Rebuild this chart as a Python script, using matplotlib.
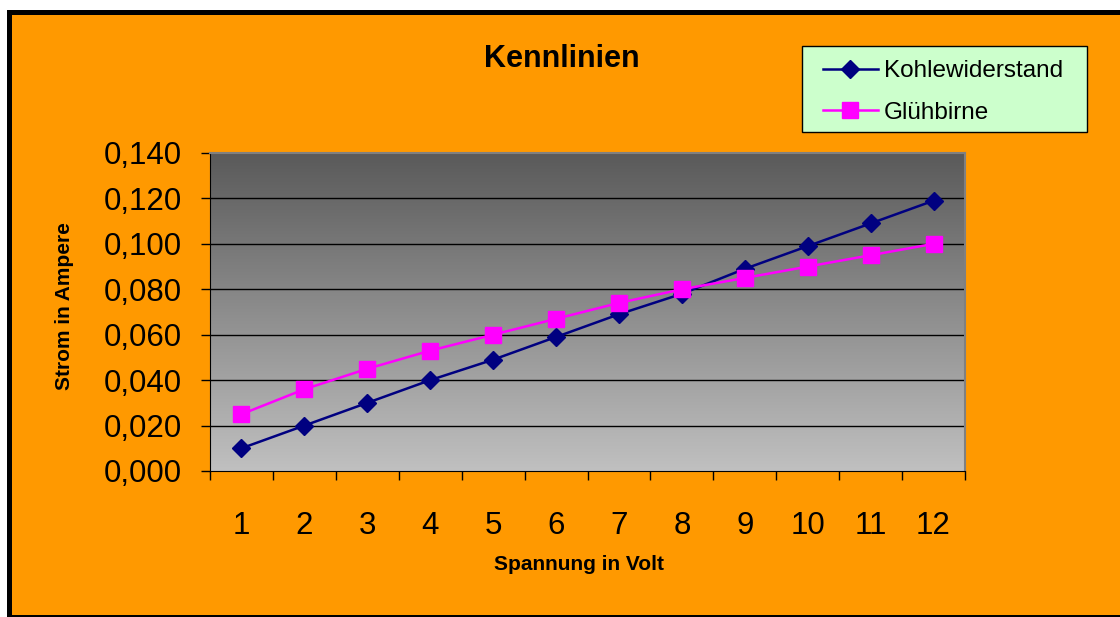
import numpy as np
import matplotlib
matplotlib.use("Agg")
import matplotlib.pyplot as plt
from matplotlib.patches import Rectangle
from matplotlib.ticker import FixedLocator, FuncFormatter

plt.rcParams['font.family'] = ['Liberation Sans', 'DejaVu Sans']

spannung = [1, 2, 3, 4, 5, 6, 7, 8, 9, 10, 11, 12]
kohle = [0.010, 0.020, 0.030, 0.040, 0.049, 0.059, 0.069, 0.078, 0.089, 0.099, 0.109, 0.119]
gluehbirne = [0.025, 0.036, 0.045, 0.053, 0.060, 0.067, 0.074, 0.080, 0.085, 0.090, 0.095, 0.100]
yticks = [0.0, 0.02, 0.04, 0.06, 0.08, 0.10, 0.12, 0.14]

W, H = 1120, 617
fig = plt.figure(figsize=(W / 100, H / 100), dpi=100, facecolor='white')

def fx(px):
    return px / W

def fy(py):
    return 1 - py / H

# orange chart background and black frame
fig.patches.append(Rectangle((fx(7), fy(616)), fx(1125) - fx(7), fy(10) - fy(616),
                             transform=fig.transFigure, facecolor='#FF9900',
                             edgecolor='none', zorder=-3))
fig.patches.append(Rectangle((fx(7), fy(15)), 1, fy(10) - fy(15),
                             transform=fig.transFigure, facecolor='black', zorder=-2))
fig.patches.append(Rectangle((fx(7), fy(616)), fx(12) - fx(7), fy(10) - fy(616),
                             transform=fig.transFigure, facecolor='black', zorder=-2))
fig.patches.append(Rectangle((fx(7), fy(617)), 1, fy(615) - fy(617),
                             transform=fig.transFigure, facecolor='black', zorder=-2))
# legend box
fig.patches.append(Rectangle((fx(802), fy(132)), fx(1087) - fx(802), fy(46) - fy(132),
                             transform=fig.transFigure, facecolor='#CCFFCC',
                             edgecolor='black', lw=1.0, zorder=-1))

ax = fig.add_axes([fx(210), fy(471), fx(965) - fx(210), fy(153) - fy(471)])
ax.set_zorder(2)
ax.set_xlim(0.5, 12.5)
ax.set_ylim(0, 0.14)

# gray gradient plot area
grad = np.linspace(0x5A, 0xC0, 256)[::-1].reshape(-1, 1) / 255.0
grad = np.dstack([grad, grad, grad])
ax.imshow(grad, extent=[0.5, 12.5, 0, 0.14], aspect='auto', origin='lower', zorder=0)

for v in yticks[1:-1]:
    ax.axhline(v, color='black', lw=1.0, zorder=1)

ax.plot(spannung, kohle, color='#000080', lw=1.8, marker='D', markersize=9,
        markerfacecolor='#000080', markeredgecolor='#000080', label='Kohlewiderstand', zorder=3)
ax.plot(spannung, gluehbirne, color='#FF00FF', lw=1.8, marker='s', markersize=11,
        markerfacecolor='#FF00FF', markeredgecolor='#FF00FF', label='Glühbirne', zorder=3)

for side in ['top', 'right']:
    ax.spines[side].set_color('#808080')
    ax.spines[side].set_linewidth(1.5)
ax.spines['left'].set_color('black')
ax.spines['bottom'].set_color('black')

ax.set_yticks(yticks)
ax.yaxis.set_major_formatter(FuncFormatter(lambda v, p: ('%.3f' % v).replace('.', ',')))
ax.tick_params(axis='y', direction='out', length=6.5, width=1, pad=14, labelsize=22.5)

ax.xaxis.set_major_locator(FixedLocator(np.arange(0.5, 13, 1)))
ax.xaxis.set_major_formatter(FuncFormatter(lambda v, p: ''))
ax.xaxis.set_minor_locator(FixedLocator(spannung))
ax.xaxis.set_minor_formatter(FuncFormatter(lambda v, p: '%d' % v))
ax.tick_params(axis='x', which='major', direction='out', length=6.5, width=1)
ax.tick_params(axis='x', which='minor', length=0, pad=29, labelsize=22.5)

ax.set_xlabel('Spannung in Volt', fontsize=15, fontweight='bold', labelpad=10)
ax.set_ylabel('Strom in Ampere', fontsize=15, fontweight='bold', labelpad=21)
ax.xaxis.label.set_x(0.489)
ax.yaxis.label.set_y(0.519)

fig.text(fx(562), fy(59), 'Kennlinien', fontsize=22, fontweight='bold',
         ha='center', va='center')

leg = fig.legend(loc='upper left', bbox_to_anchor=(fx(823), fy(60)),
                 bbox_transform=fig.transFigure, fontsize=17.5, frameon=False,
                 handlelength=2.25, handletextpad=0.25, borderpad=0.0,
                 borderaxespad=0.0, labelspacing=0.82)

fig.savefig('out.png', dpi=100, facecolor=fig.get_facecolor())
